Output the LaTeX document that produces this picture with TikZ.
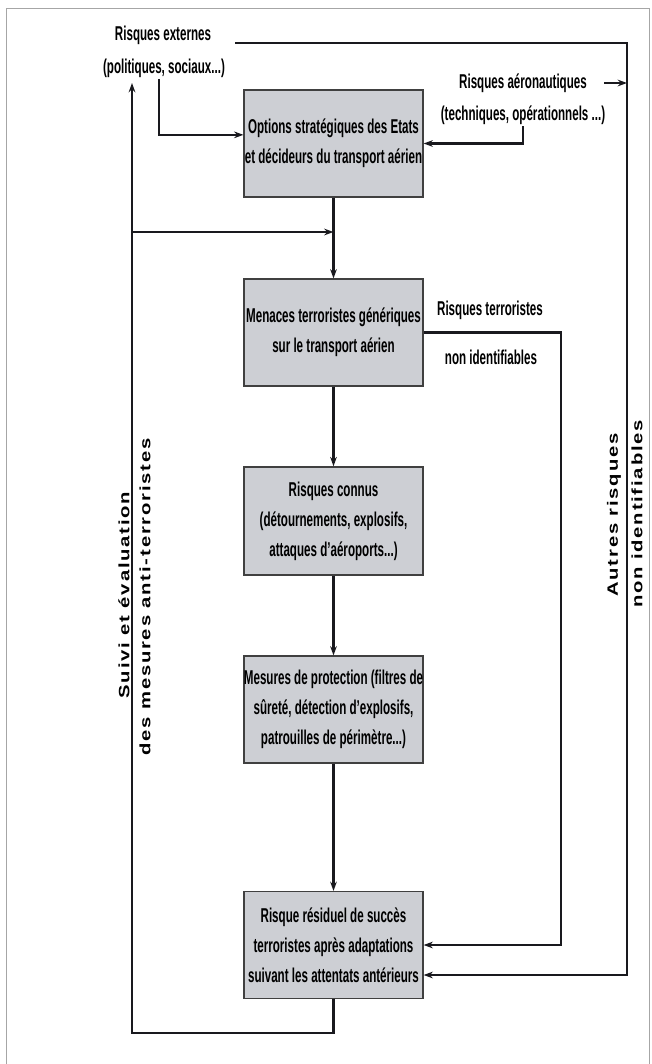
\documentclass[tikz,border=0pt]{standalone}
\usepackage{fontspec}
\usetikzlibrary{arrows.meta}
\newfontfamily\condfont{Liberation Sans}[FakeStretch=0.58]
\newfontfamily\largefont{Liberation Sans}[FakeStretch=1.35,LetterSpace=12]
\definecolor{blocgris}{RGB}{205,207,212}
\definecolor{trait}{RGB}{25,25,30}
\tikzset{
 bloc/.style={draw=black!75, line width=1.1pt, fill=blocgris, minimum width=134pt, minimum height=80pt, inner sep=0pt, align=center, font=\condfont\bfseries\fontsize{15}{22.5}\selectfont},
 lbl/.style={inner sep=1pt, font=\condfont\bfseries\fontsize{15}{17}\selectfont},
 vlbl/.style={rotate=90, inner sep=0pt, font=\largefont\bfseries\fontsize{11.25}{13}\selectfont},
 fleche/.style={draw=trait, line width=1.7pt, -{Stealth[length=7pt,width=5pt]}}
}
\begin{document}
\begin{tikzpicture}[x=0.75pt,y=-0.75pt]
\useasboundingbox (0,0) rectangle (651,1064);
\draw[black!35, line width=0.5pt] (6,1064) -- (6,8) -- (649,8) -- (649,1064);

\node[bloc] (opt) at (333.5,143.5) {Options stratégiques des Etats\\et décideurs du transport aérien};
\node[bloc] (men) at (333.5,332.5) {Menaces terroristes génériques\\sur le transport aérien};
\node[bloc, minimum height=81pt] (con) at (333.5,521) {Risques connus\\(détournements, explosifs,\\attaques d’aéroports...)};
\node[bloc] (mes) at (333.5,709.5) {Mesures de protection (filtres de\\sûreté, détection d’explosifs,\\patrouilles de périmètre...)};
\node[bloc] (res) at (333.5,945) {Risque résiduel de succès\\terroristes après adaptations\\suivant les attentats antérieurs};

\node[lbl] (extA) at (163,35) {Risques externes};
\node[lbl] (extB) at (164,68) {(politiques, sociaux...)};
\node[lbl] (aeroA) at (523,83) {Risques aéronautiques};
\node[lbl] (aeroB) at (523,115) {(techniques, opérationnels ...)};
\node[lbl] (terrA) at (490,310) {Risques terroristes};
\node[lbl] (terrB) at (491,357) {non identifiables};
\node[vlbl] (suivA) at (124,595) {Suivi et évaluation};
\node[vlbl] (suivB) at (145,597) {des mesures anti-terroristes};
\node[vlbl] (autA) at (614,515) {Autres risques};
\node[vlbl] (autB) at (637,514) {non identifiables};

\coordinate (hg) at (235,43);
\coordinate (hd) at (627,43);
\coordinate (bd) at (627,975);
\coordinate (tr) at (561,332.5);
\coordinate (bg) at (132,1033);
\coordinate (bh) at (132,83);
\coordinate (jn) at (333.5,232);

\draw[fleche] ([xshift=-4pt]extB.south) |- ([yshift=6.5pt]opt.west);
\draw[fleche] (aeroB.south) |- (opt.east);
\draw[fleche] ([xshift=12pt]aeroA.east) -- (aeroA.east -| hd);
\draw[fleche] (hg) -- (hd) -- (bd) -- (bd -| res.east);
\draw[fleche] (opt) -- (men);
\draw[fleche] (bg |- jn) -- (jn);
\draw[fleche] (men) -- (con);
\draw[fleche] (con) -- (mes);
\draw[fleche] (mes) -- (res);
\draw[fleche] (men.east) -- (tr) |- (res.east);
\draw[fleche] (res.south) |- (bg) -- (bh);
\end{tikzpicture}
\end{document}
